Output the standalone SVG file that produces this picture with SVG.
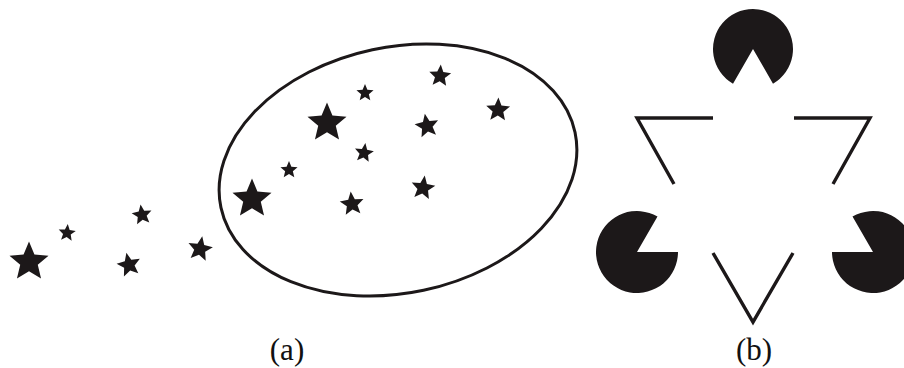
<svg xmlns="http://www.w3.org/2000/svg" xmlns:xlink="http://www.w3.org/1999/xlink" width="904" height="368" viewBox="0 0 904 368">
<style>
.ink{fill:#1c1819}
.edge{fill:none;stroke:#1c1819;stroke-width:3.4;stroke-linejoin:miter;stroke-miterlimit:10}
.ring{fill:none;stroke:#1c1819;stroke-width:3}
.lbl{font-family:"Liberation Serif","DejaVu Serif",serif;font-size:31px;fill:#111;text-anchor:middle}
</style>
<defs>
<path id="star" d="M0,-10 L2.645,-3.641 L9.511,-3.090 L4.280,1.391 L5.878,8.090 L0,4.5 L-5.878,8.090 L-4.280,1.391 L-9.511,-3.090 L-2.645,-3.641 Z"/>
</defs>
<rect width="904" height="368" fill="#fff"/>
<g id="panel-a">
<ellipse id="group-ellipse" class="ring" cx="398" cy="170" rx="181" ry="123" transform="rotate(-12 398 170)"/>
<g id="stars" class="ink">
<use xlink:href="#star" transform="translate(29,262) scale(2.05)"/>
<use xlink:href="#star" transform="translate(67,233) scale(0.9) rotate(5)"/>
<use xlink:href="#star" transform="translate(142,215) scale(1.05) rotate(-8)"/>
<use xlink:href="#star" transform="translate(129,265) scale(1.25) rotate(-12)"/>
<use xlink:href="#star" transform="translate(200,249) scale(1.3) rotate(10)"/>
<use xlink:href="#star" transform="translate(252,199) scale(2.05)"/>
<use xlink:href="#star" transform="translate(289,170) scale(0.9)"/>
<use xlink:href="#star" transform="translate(327,123) scale(2.05)"/>
<use xlink:href="#star" transform="translate(365,93) scale(0.9)"/>
<use xlink:href="#star" transform="translate(364,153) scale(1.0) rotate(8)"/>
<use xlink:href="#star" transform="translate(352,204) scale(1.25) rotate(-6)"/>
<use xlink:href="#star" transform="translate(440,76) scale(1.15) rotate(4)"/>
<use xlink:href="#star" transform="translate(427,126) scale(1.25) rotate(-10)"/>
<use xlink:href="#star" transform="translate(423,188) scale(1.25) rotate(8)"/>
<use xlink:href="#star" transform="translate(498,110) scale(1.25) rotate(2)"/>
</g>
<text id="label-a" class="lbl" x="287" y="360">(a)</text>
</g>
<g id="panel-b">
<g id="pacmen" class="ink">
<path id="pac-top" d="M753,49 L773,83.64 A40,40 0 1 0 733,83.64 Z"/>
<path id="pac-left" d="M637,252 L678,252 A41,41 0 1 1 657.5,216.5 Z"/>
<path id="pac-right" d="M873,252 L832,252 A41,41 0 1 0 852.5,216.5 Z"/>
</g>
<g id="outline-triangle">
<polyline class="edge" points="713,118 637,118 674,184"/>
<polyline class="edge" points="794,118 870,118 833,184"/>
<polyline class="edge" points="713,253 753,322 793,253"/>
</g>
<text id="label-b" class="lbl" x="754" y="360">(b)</text>
</g>
</svg>
